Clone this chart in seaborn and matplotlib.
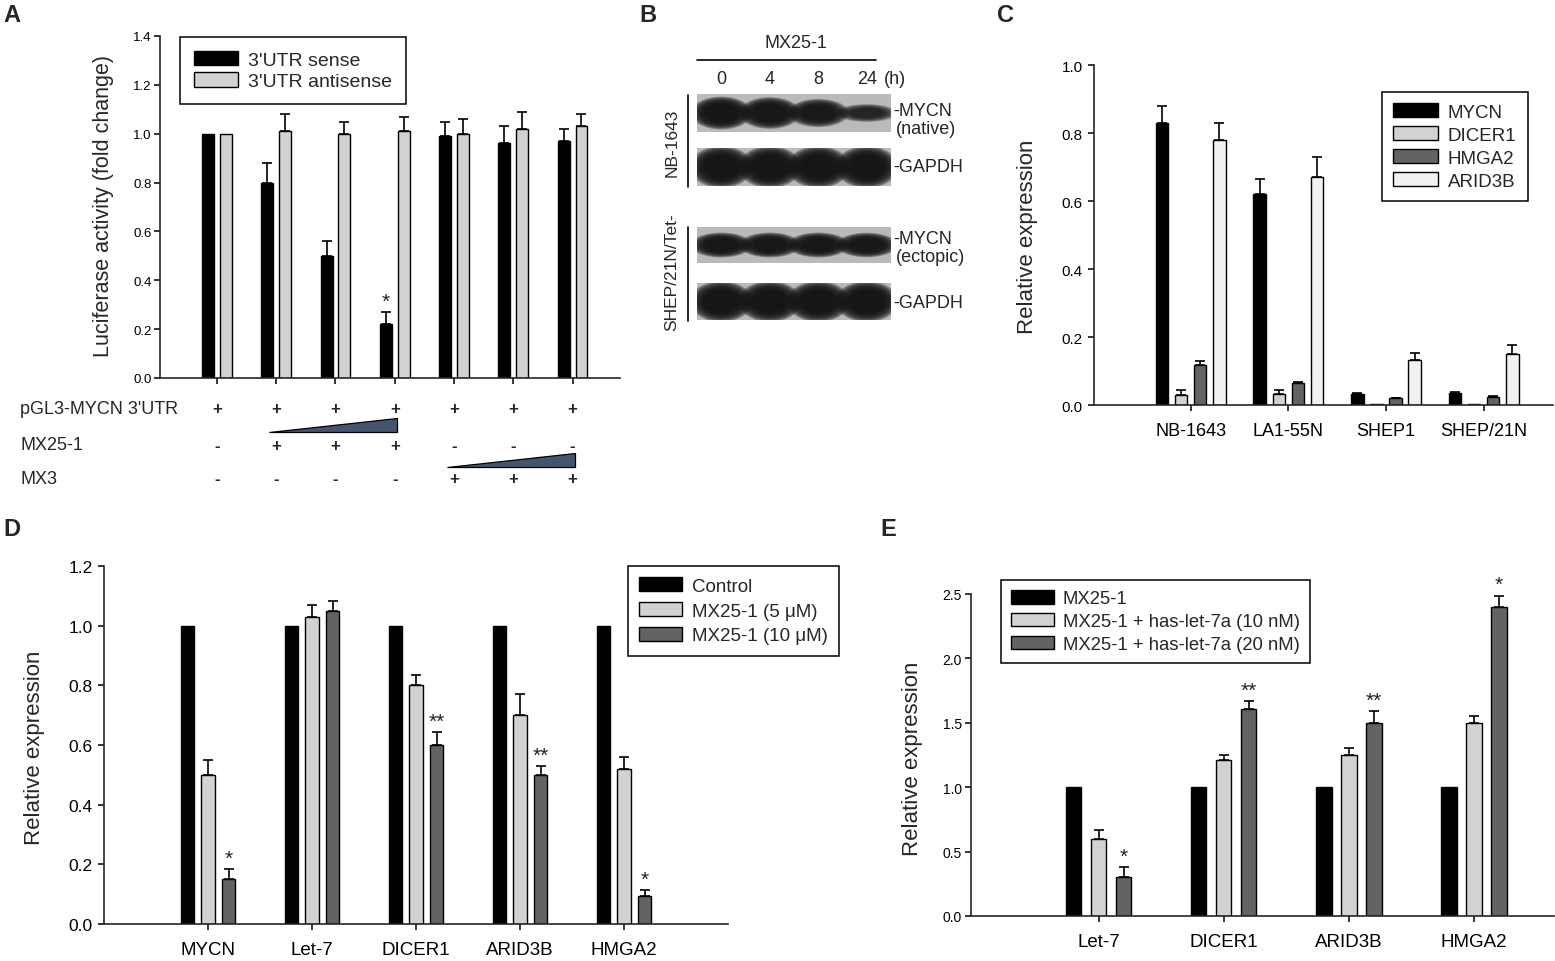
import seaborn as sns
import pandas as pd
import matplotlib
matplotlib.use("Agg")
import matplotlib.pyplot as plt
import numpy as np
import matplotlib.transforms as mtransforms
from matplotlib.patches import Ellipse, Polygon
from matplotlib.lines import Line2D

#-----------------------------------------------------------------------------------------------------------------------
"""Data read off the figure"""
# Panel A - luciferase reporter
a_groups = ['1', '2', '3', '4', '5', '6', '7']
a_levels = ["3'UTR sense", "3'UTR antisense"]
a_sense = [1.00, 0.80, 0.50, 0.22, 0.99, 0.96, 0.97]
a_sense_err = [0, 0.08, 0.06, 0.05, 0.06, 0.07, 0.05]
a_anti = [1.00, 1.01, 1.00, 1.01, 1.00, 1.02, 1.03]
a_anti_err = [0, 0.07, 0.05, 0.06, 0.06, 0.07, 0.05]
a_sense_stars = ['', '', '', '*', '', '', '']
a_anti_stars = ['', '', '', '', '', '', '']
a_pgl3 = ['+', '+', '+', '+', '+', '+', '+']
a_mx25 = ['-', '+', '+', '+', '-', '-', '-']
a_mx3 = ['-', '-', '-', '-', '+', '+', '+']

# Panel B - western blot band strength (0-1)
b_times = ['0', '4', '8', '24']
b_mycn_native = [1.0, 0.95, 0.8, 0.35]
b_gapdh_nb = [1.0, 1.0, 1.0, 1.0]
b_mycn_ectopic = [0.9, 0.9, 0.9, 0.88]
b_gapdh_shep = [1.0, 1.0, 1.0, 1.0]

# Panel C - basal expression in cell lines
c_lines = ['NB-1643', 'LA1-55N', 'SHEP1', 'SHEP/21N']
c_genes = ['MYCN', 'DICER1', 'HMGA2', 'ARID3B']
c_mycn = [0.83, 0.62, 0.031, 0.036]
c_mycn_err = [0.05, 0.046, 0.003, 0.003]
c_dicer1 = [0.029, 0.033, 0.003, 0.003]
c_dicer1_err = [0.015, 0.011, 0, 0]
c_hmga2 = [0.119, 0.064, 0.02, 0.025]
c_hmga2_err = [0.01, 0.003, 0.002, 0.002]
c_arid3b = [0.779, 0.67, 0.132, 0.149]
c_arid3b_err = [0.051, 0.058, 0.021, 0.027]

# Panel D - MX25-1 dose
d_genes = ['MYCN', 'Let-7', 'DICER1', 'ARID3B', 'HMGA2']
d_levels = ['Control', 'MX25-1 (5 μM)', 'MX25-1 (10 μM)']
d_control = [1.0, 1.0, 1.0, 1.0, 1.0]
d_control_err = [0, 0, 0, 0, 0]
d_mx5 = [0.50, 1.03, 0.80, 0.70, 0.52]
d_mx5_err = [0.05, 0.04, 0.033, 0.07, 0.04]
d_mx10 = [0.15, 1.05, 0.60, 0.50, 0.093]
d_mx10_err = [0.033, 0.033, 0.044, 0.028, 0.021]
d_mx10_stars = ['*', '', '**', '**', '*']

# Panel E - let-7 rescue
e_genes = ['Let-7', 'DICER1', 'ARID3B', 'HMGA2']
e_levels = ['MX25-1', 'MX25-1 + has-let-7a (10 nM)', 'MX25-1 + has-let-7a (20 nM)']
e_mx = [1.0, 1.0, 1.0, 1.0]
e_mx_err = [0, 0, 0, 0]
e_let10 = [0.60, 1.21, 1.25, 1.50]
e_let10_err = [0.065, 0.04, 0.054, 0.05]
e_let20 = [0.30, 1.61, 1.50, 2.40]
e_let20_err = [0.078, 0.062, 0.09, 0.088]
e_let20_stars = ['*', '**', '**', '*']

#-----------------------------------------------------------------------------------------------------------------------
"""Style"""
sns.set_style("ticks")
plt.rcParams['font.family'] = ['Liberation Sans', 'DejaVu Sans']
plt.rcParams['axes.linewidth'] = 1.2

W, H = 1555, 962
fig = plt.figure(figsize=(W / 100, H / 100), dpi=100)
fig.patch.set_facecolor('white')

BLACK = '#000000'
LIGHT = '#d2d2d2'
DARK = '#636363'
PALE = '#f1f1f1'


def px_axes(l, t, r, b):
    #axes placed by pixel box of the reference
    return fig.add_axes([l / W, 1 - b / H, (r - l) / W, (b - t) / H])


def px_to_axes(ax, px, py):
    pos = ax.get_position()
    return ((px / W - pos.x0) / pos.width, ((1 - py / H) - pos.y0) / pos.height)


def bar_panel(ax, cats, levels, values, errors, colors, width, gap, stars=None, star_size=15):
    rows = []
    for lev, vals in zip(levels, values):
        for c, v in zip(cats, vals):
            rows.append({'cat': c, 'level': lev, 'value': v})
    df = pd.DataFrame(rows)
    sns.barplot(data=df, x='cat', y='value', hue='level', order=cats, hue_order=levels,
                palette=colors, width=width, gap=gap, saturation=1, edgecolor='black',
                linewidth=1, errorbar=None, ax=ax)
    bars = list(ax.containers[:len(levels)])
    for j, cont in enumerate(bars):
        for k, p in enumerate(cont):
            x = p.get_x() + p.get_width() / 2
            h = p.get_height()
            e = errors[j][k]
            if e > 0:
                ax.errorbar(x, h, yerr=[[0], [e]], fmt='none', ecolor='black', elinewidth=1.2,
                            capsize=3.5, capthick=1.2, zorder=3)
            if stars is not None and stars[j][k]:
                ax.text(x, h + e + 0.004 * ax.get_ylim()[1], stars[j][k], ha='center', va='bottom',
                        fontsize=star_size, color='#222222', clip_on=False)
    sns.despine(ax=ax)
    ax.set_xlabel('')
    ax.set_ylabel('')
    ax.tick_params(axis='both', direction='out', length=4, width=1.1, colors='black')


def make_legend(ax, px, py, fontsize, labelspacing, borderpad=0.6, handlelength=2.4):
    h, l = ax.get_legend_handles_labels()
    if ax.get_legend() is not None:
        ax.get_legend().remove()
    ax_x, ax_y = px_to_axes(ax, px, py)
    leg = ax.legend(h, l, loc='upper left', bbox_to_anchor=(ax_x, ax_y), borderaxespad=0,
                    frameon=True, fancybox=False, edgecolor='black', framealpha=1,
                    fontsize=fontsize, handlelength=handlelength, handleheight=0.75, handletextpad=0.5,
                    labelspacing=labelspacing, borderpad=borderpad)
    leg.get_frame().set_linewidth(1.1)
    for hd in leg.legend_handles:
        hd.set_edgecolor('black')
        hd.set_linewidth(1)
    return leg


#-----------------------------------------------------------------------------------------------------------------------
"""Panel A"""
axA = px_axes(160, 37, 620, 379)
bar_panel(axA, a_groups, a_levels, [a_sense, a_anti], [a_sense_err, a_anti_err], [BLACK, LIGHT],
          width=0.6, gap=0.33, stars=[a_sense_stars, a_anti_stars], star_size=15)
axA.set_xlim(-0.96, 6.80)
axA.set_ylim(0, 1.4)
axA.set_yticks(np.arange(0, 1.41, 0.2))
axA.set_yticklabels(['%.1f' % v for v in np.arange(0, 1.41, 0.2)], fontsize=9.5)
axA.set_xticklabels([])
axA.tick_params(axis='y', pad=2)
make_legend(axA, 180, 38, 14, 0.2, borderpad=0.7, handlelength=2.3)
fig.text(104 / W, 1 - 206 / H, 'Luciferase activity (fold change)', rotation=90, ha='center',
         va='center', fontsize=15.5)

# treatment table under A
blendA = mtransforms.blended_transform_factory(axA.transData, fig.transFigure)
for row_label, row, ypx in [('pGL3-MYCN 3\'UTR', a_pgl3, 410), ('MX25-1', a_mx25, 446), ('MX3', a_mx3, 480)]:
    fig.text(20 / W, 1 - ypx / H, row_label, ha='left', va='center', fontsize=13)
    for i, s in enumerate(row):
        axA.text(i, 1 - ypx / H, s, transform=blendA, ha='center', va='center', fontsize=12,
                 fontweight='bold', clip_on=False)
for row, ybot, ytop in [(a_mx25, 433, 419), (a_mx3, 468, 454)]:
    idx = [i for i, s in enumerate(row) if s == '+']
    x0, x1 = min(idx) - 0.12, max(idx) + 0.04
    tri = Polygon([(x0, 1 - ybot / H), (x1, 1 - ybot / H), (x1, 1 - ytop / H)], closed=True,
                  transform=blendA, facecolor='#46556f', edgecolor='black', lw=0.9, clip_on=False)
    axA.add_patch(tri)

#-----------------------------------------------------------------------------------------------------------------------
"""Panel B - blot strips"""
def blot(ax, strengths, band_h, band_w):
    ax.set_xlim(-0.5, 3.5)
    ax.set_ylim(0, 1)
    ax.set_facecolor('#bababa')
    ax.set_xticks([])
    ax.set_yticks([])
    for sp in ax.spines.values():
        sp.set_visible(False)
    for i, v in enumerate(strengths):
        for k in range(9):
            scale = 1.2 - 0.07 * k
            ax.add_patch(Ellipse((i, 0.5), width=band_w * scale,
                                 height=band_h * (0.3 + 0.7 * v) * scale,
                                 facecolor='#141414', edgecolor='none', alpha=0.14 + 0.2 * v))


strips = [(b_mycn_native, 95, 133, 0.72, 1.05), (b_gapdh_nb, 149, 187, 0.92, 1.08),
          (b_mycn_ectopic, 228, 264, 0.62, 1.05), (b_gapdh_shep, 284, 321, 0.92, 1.08)]
blot_axes = []
for vals, t, b, bh, bw in strips:
    axb = px_axes(697, t, 891, b)
    blot(axb, vals, bh, bw)
    blot_axes.append(axb)

blendB = mtransforms.blended_transform_factory(blot_axes[0].transData, fig.transFigure)
for i, t in enumerate(b_times):
    blot_axes[0].text(i, 1 - 80 / H, t, transform=blendB, ha='center', va='center', fontsize=13,
                      clip_on=False)
fig.text(884 / W, 1 - 80 / H, '(h)', ha='left', va='center', fontsize=13)
fig.text(796 / W, 1 - 43 / H, 'MX25-1', ha='center', va='center', fontsize=13)
fig.add_artist(Line2D([697 / W, 876 / W], [1 - 61 / H, 1 - 61 / H], color='black', lw=1.2))

for txt, ypx in [('-MYCN', 111), ('(native)', 130), ('-GAPDH', 167), ('-MYCN', 240),
                 ('(ectopic)', 258), ('-GAPDH', 303)]:
    xpx = 893 if txt.startswith('-') else 896
    fig.text(xpx / W, 1 - ypx / H, txt, ha='left', va='center', fontsize=13)

fig.add_artist(Line2D([688 / W, 688 / W], [1 - 96 / H, 1 - 188 / H], color='black', lw=1.2))
fig.add_artist(Line2D([688 / W, 688 / W], [1 - 228 / H, 1 - 322 / H], color='black', lw=1.2))
fig.text(672 / W, 1 - 143 / H, 'NB-1643', rotation=90, ha='center', va='center', fontsize=12.5)
fig.text(672 / W, 1 - 272 / H, 'SHEP/21N/Tet-', rotation=90, ha='center', va='center', fontsize=12.5)

#-----------------------------------------------------------------------------------------------------------------------
"""Panel C"""
axC = px_axes(1094, 66, 1553, 406)
bar_panel(axC, c_lines, c_genes, [c_mycn, c_dicer1, c_hmga2, c_arid3b],
          [c_mycn_err, c_dicer1_err, c_hmga2_err, c_arid3b_err], [BLACK, LIGHT, DARK, PALE],
          width=0.78, gap=0.34)
axC.set_xlim(-0.99, 3.71)
axC.set_ylim(0, 1.0)
axC.set_yticks(np.arange(0, 1.01, 0.2))
axC.set_yticklabels(['%.1f' % v for v in np.arange(0, 1.01, 0.2)], fontsize=11)
axC.tick_params(axis='x', labelsize=13, pad=8)
axC.tick_params(axis='y', pad=4)
make_legend(axC, 1382, 93, 13.5, 0.3, borderpad=0.6, handlelength=2.4)
fig.text(1027 / W, 1 - 237 / H, 'Relative expression', rotation=90, ha='center', va='center',
         fontsize=16)

#-----------------------------------------------------------------------------------------------------------------------
"""Panel D"""
axD = px_axes(104, 567, 728, 925)
bar_panel(axD, d_genes, d_levels, [d_control, d_mx5, d_mx10], [d_control_err, d_mx5_err, d_mx10_err],
          [BLACK, LIGHT, DARK], width=0.6, gap=0.37,
          stars=[['']*5, ['']*5, d_mx10_stars])
axD.set_xlim(-1.0, 5.0)
axD.set_ylim(0, 1.2)
axD.set_yticks(np.arange(0, 1.21, 0.2))
axD.set_yticklabels(['%.1f' % v for v in np.arange(0, 1.21, 0.2)], fontsize=12.5)
axD.tick_params(axis='x', labelsize=13.5, pad=8)
axD.tick_params(axis='y', pad=4)
make_legend(axD, 628, 567, 13.5, 0.4, borderpad=0.6, handlelength=2.3)
fig.text(35 / W, 1 - 748 / H, 'Relative expression', rotation=90, ha='center', va='center',
         fontsize=16)

#-----------------------------------------------------------------------------------------------------------------------
"""Panel E"""
axE = px_axes(971, 595, 1554, 917)
bar_panel(axE, e_genes, e_levels, [e_mx, e_let10, e_let20], [e_mx_err, e_let10_err, e_let20_err],
          [BLACK, LIGHT, DARK], width=0.6, gap=0.38,
          stars=[['']*4, ['']*4, e_let20_stars])
axE.set_xlim(-1.02, 3.64)
axE.set_ylim(0, 2.5)
axE.set_yticks(np.arange(0, 2.51, 0.5))
axE.set_yticklabels(['%.1f' % v for v in np.arange(0, 2.51, 0.5)], fontsize=10)
axE.tick_params(axis='x', labelsize=13.5, pad=8)
axE.tick_params(axis='y', pad=2.5)
make_legend(axE, 1001, 581, 13.3, 0.3, borderpad=0.55, handlelength=2.3)
fig.text(912 / W, 1 - 759 / H, 'Relative expression', rotation=90, ha='center', va='center',
         fontsize=16)

#-----------------------------------------------------------------------------------------------------------------------
"""Panel letters"""
for letter, xpx, ypx in [('A', 12, 16), ('B', 648, 16), ('C', 1005, 16), ('D', 12, 530), ('E', 888, 530)]:
    fig.text(xpx / W, 1 - ypx / H, letter, ha='center', va='center', fontsize=17, fontweight='bold')

fig.savefig('out.png', dpi=100, facecolor='white')
